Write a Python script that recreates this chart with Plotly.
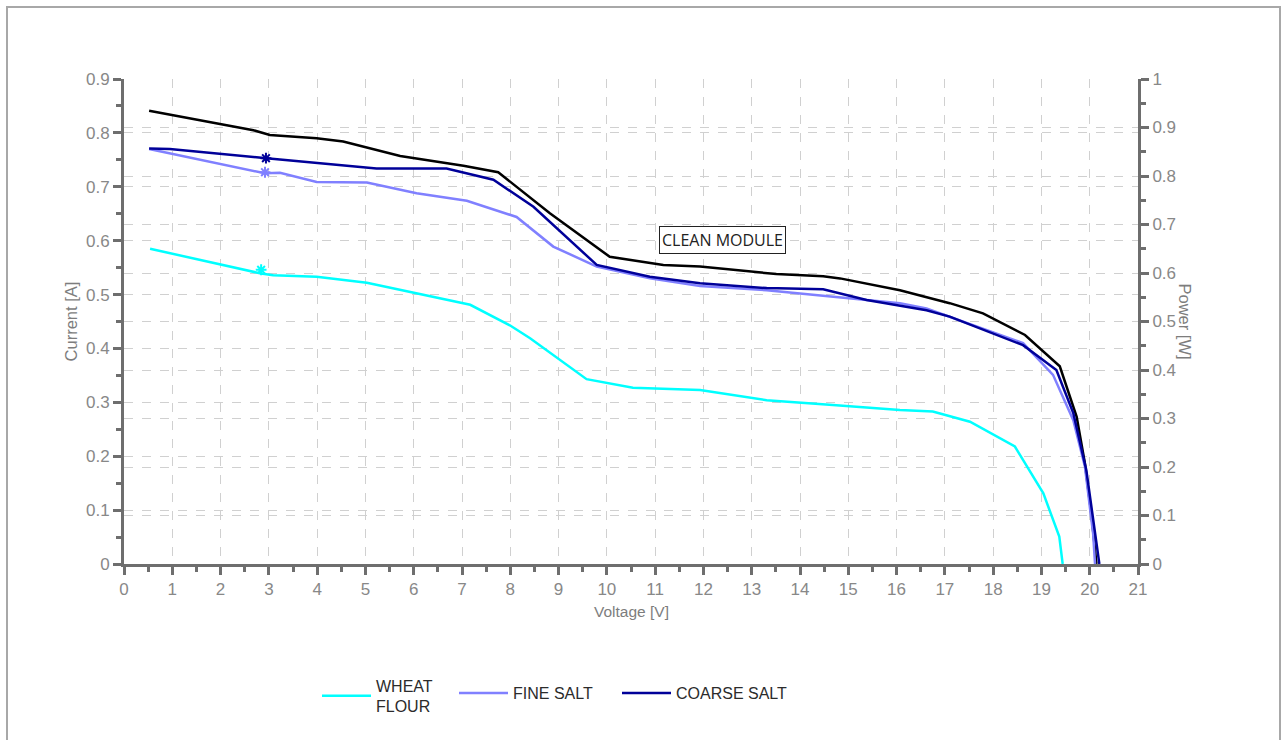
import plotly.graph_objects as go

# ---- data ----
wheat_v = [0.54, 2.84, 3.09, 3.99, 5.03, 6.06, 7.17, 7.99, 8.41, 9.58, 10.54, 11.93, 13.31,
           14.68, 16.07, 16.75, 17.52, 18.45, 19.04, 19.37, 19.44]
wheat_i = [0.585, 0.539, 0.536, 0.533, 0.522, 0.502, 0.481, 0.443, 0.419, 0.343, 0.327, 0.323, 0.304,
           0.295, 0.286, 0.283, 0.264, 0.218, 0.131, 0.051, 0.0]

fine_v = [0.52, 2.92, 3.23, 3.99, 5.03, 6.06, 7.10, 7.79, 8.13, 8.89, 9.79, 10.89, 11.93, 13.31,
          14.68, 16.07, 16.62, 18.62, 19.24, 19.66, 19.90, 20.07, 20.11]
fine_i = [0.770, 0.725, 0.726, 0.709, 0.708, 0.688, 0.674, 0.654, 0.644, 0.589, 0.552, 0.530, 0.516, 0.508,
          0.496, 0.484, 0.474, 0.410, 0.351, 0.267, 0.181, 0.057, 0.0]

coarse_v = [0.52, 0.95, 2.95, 3.64, 5.23, 6.68, 7.65, 8.48, 9.79, 10.89, 11.93, 13.31, 14.48, 15.38,
            16.62, 17.10, 18.62, 19.31, 19.66, 19.93, 20.14, 20.20]
coarse_i = [0.771, 0.770, 0.753, 0.747, 0.734, 0.734, 0.713, 0.663, 0.555, 0.533, 0.521, 0.512, 0.510, 0.490,
            0.471, 0.459, 0.406, 0.360, 0.280, 0.174, 0.032, 0.0]

clean_v = [0.52, 2.68, 3.02, 3.99, 4.54, 5.72, 7.03, 7.75, 8.82, 10.06, 11.17, 11.93, 13.51, 14.48,
           14.83, 16.07, 17.10, 17.79, 18.66, 19.38, 19.73, 19.90, 20.04, 20.14]
clean_i = [0.841, 0.805, 0.796, 0.790, 0.784, 0.757, 0.739, 0.727, 0.651, 0.570, 0.555, 0.552, 0.538, 0.534,
           0.530, 0.508, 0.484, 0.465, 0.425, 0.367, 0.273, 0.187, 0.088, 0.0]

# point markers seen near V ~ 2.9
mark_v = [2.84, 2.92, 2.94]
mark_i = [0.546, 0.727, 0.753]

series_names = ["WHEAT<br>FLOUR", "FINE SALT", "COARSE SALT"]
series_colors = ["#00FFFF", "#8080FF", "#000099"]

x_ticks = list(range(0, 22))
y_ticks = [round(0.1 * k, 1) for k in range(10)]
y2_ticks = [round(0.1 * k, 1) for k in range(11)]

GRID = "#d0d0d0"
AXIS = "#6e6e6e"
FONT = "Arial, Liberation Sans, sans-serif"
TICKFONT = dict(family=FONT, size=17, color="#888888")
TITLECOLOR = "#7d7d7d"


def px_x(p):
    return (p - 124) / 1014.0


def px_y(q):
    return (564 - q) / 485.0


fig = go.Figure()

fig.add_trace(go.Scatter(x=clean_v, y=clean_i, mode="lines", line=dict(color="black", width=2.5),
                         showlegend=False, name="CLEAN MODULE"))
legend_ids = ["legend", "legend2", "legend3"]
for v, i, n, c, lg in [(wheat_v, wheat_i, series_names[0], series_colors[0], legend_ids[0]),
                       (fine_v, fine_i, series_names[1], series_colors[1], legend_ids[1]),
                       (coarse_v, coarse_i, series_names[2], series_colors[2], legend_ids[2])]:
    fig.add_trace(go.Scatter(x=v, y=i, mode="lines", line=dict(color=c, width=2.5), name=n, legend=lg))

fig.add_trace(go.Scatter(x=mark_v, y=mark_i, mode="markers", showlegend=False,
                         marker=dict(symbol="asterisk-open", size=9, color=series_colors,
                                     line=dict(color=series_colors, width=2))))

# invisible trace to activate the secondary (power) axis
fig.add_trace(go.Scatter(x=[0], y=[0], yaxis="y2", mode="lines", line=dict(width=0),
                         showlegend=False, hoverinfo="skip"))


def leg(xp, yp):
    return dict(orientation="h", x=px_x(xp), xanchor="left", y=px_y(yp), yanchor="middle",
                font=dict(family=FONT, size=16, color="#2b2b2b"), bgcolor="rgba(0,0,0,0)",
                itemwidth=49)


axis_common = dict(showgrid=True, gridcolor=GRID, griddash="dash", gridwidth=1,
                   showline=True, linecolor=AXIS, linewidth=3, ticks="outside", ticklen=8,
                   tickwidth=3, tickcolor=AXIS, tickfont=TICKFONT, zeroline=False)

fig.update_layout(
    width=1285, height=740,
    margin=dict(l=124, r=147, t=79, b=176),
    paper_bgcolor="white", plot_bgcolor="white",
    font=dict(family=FONT, color="#333333"),
    xaxis=dict(range=[0, 21], tickmode="array", tickvals=x_ticks, **axis_common,
               minor=dict(dtick=0.5, ticks="outside", ticklen=5, tickwidth=3, tickcolor=AXIS, showgrid=False)),
    yaxis=dict(range=[0, 0.9], tickmode="array", tickvals=y_ticks, **axis_common,
               minor=dict(dtick=0.05, ticks="outside", ticklen=5, tickwidth=3, tickcolor=AXIS, showgrid=False),
               title=dict(text="Current [A]", font=dict(size=16.5, color=TITLECOLOR), standoff=5)),
    yaxis2=dict(range=[0, 1], overlaying="y", side="right", tickmode="array", tickvals=y2_ticks,
                **axis_common,
                minor=dict(dtick=0.05, ticks="outside", ticklen=5, tickwidth=3, tickcolor=AXIS, showgrid=False)),
    legend=leg(317, 696),
    legend2=leg(454, 693),
    legend3=leg(617, 693),
    showlegend=True,
)

fig.add_annotation(x=12.39, y=0.602, xref="x", yref="y", text="CLEAN MODULE", showarrow=False,
                   font=dict(size=16, color="#222222", family="Open Sans, Arial, sans-serif"),
                   bordercolor="#222222", borderwidth=1, borderpad=2, bgcolor="white")

# axis titles drawn as annotations for exact placement
fig.add_annotation(x=0.5, y=px_y(611), xref="paper", yref="paper", text="Voltage [V]",
                   showarrow=False, yanchor="middle", font=dict(size=15.5, color=TITLECOLOR))
fig.add_annotation(x=px_x(1196), y=0.5, xref="paper", yref="paper", text="Power [W]", textangle=90,
                   showarrow=False, font=dict(size=16.5, color=TITLECOLOR))

# outer frame
fig.add_shape(type="rect", xref="paper", yref="paper", x0=px_x(7), x1=px_x(1280), y0=px_y(770), y1=px_y(7),
              line=dict(color="#a8a8a8", width=2), layer="below")

fig.write_html("out.html", config={"displayModeBar": False},
               post_script="document.body.style.margin='0';document.body.style.overflow='hidden';")
